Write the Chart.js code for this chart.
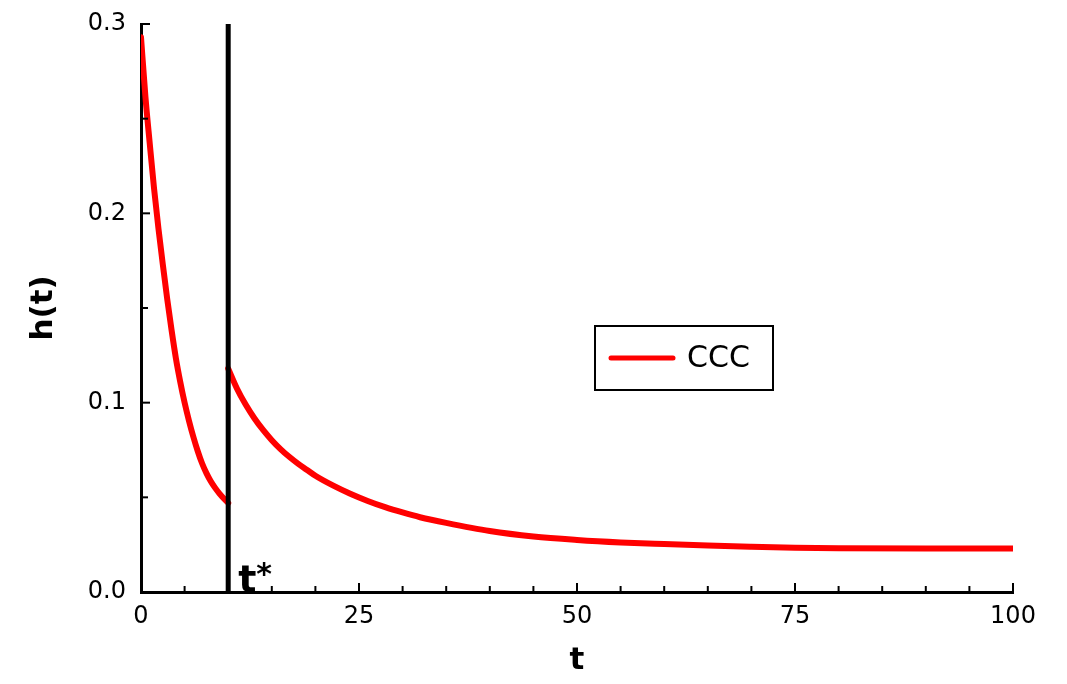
<!DOCTYPE html>
<html>
<head>
<meta charset="utf-8">
<script src="https://cdn.jsdelivr.net/npm/chart.js@4"></script>
<style>
    html, body { margin: 0; padding: 0; background: #fff; }
    #wrap { width: 1067px; height: 684px; }
</style>
</head>
<body>
<div id="wrap"><canvas id="myChart"></canvas></div>
<script>
// hazard before the change point t*
var tBefore = [0, 0.5, 1, 1.5, 2, 2.5, 3, 3.5, 4, 4.5, 5, 5.5, 6, 6.5, 7, 7.5, 8, 8.5, 9, 9.5, 10];
var hBefore = [0.293, 0.262, 0.237, 0.213, 0.192, 0.173, 0.155, 0.1385, 0.1235, 0.111, 0.100, 0.0905,
               0.082, 0.0745, 0.068, 0.0628, 0.0585, 0.055, 0.052, 0.0494, 0.047];
// hazard after t*
var tAfter = [10, 11, 12, 13, 14, 15, 16, 17, 18, 19, 20, 22, 24, 26, 28, 30, 32, 35, 40, 45,
              50, 55, 60, 65, 70, 75, 80, 90, 100];
var hAfter = [0.118, 0.1075, 0.099, 0.0918, 0.0856, 0.0802, 0.0755, 0.0714, 0.0678, 0.0646, 0.0614,
              0.0563, 0.0519, 0.0481, 0.0448, 0.042, 0.0395, 0.0365, 0.0322, 0.0293,
              0.0275, 0.0262, 0.0253, 0.0245, 0.0239, 0.0234, 0.0231, 0.023, 0.023];
var tStar = 10;
var seriesLabel = 'CCC';
var xRange = [0, 100];
var yRange = [0, 0.3];
var xMajorStep = 25, xMinorStep = 5;
var yMajorStep = 0.1, yMinorStep = 0.05;

var curve = [];
tBefore.forEach(function(t, i) { curve.push({x: t, y: hBefore[i]}); });
curve.push({x: tStar, y: null});
tAfter.forEach(function(t, i) { curve.push({x: t, y: hAfter[i]}); });

var tickFont = {family: 'DejaVu Sans', size: 24};
var boldFont = 'DejaVu Sans';

// tick marks pointing into the plot
var innerTicks = {
    id: 'innerTicks',
    afterDraw: function(chart) {
        var ctx = chart.ctx, xs = chart.scales.x, ys = chart.scales.y;
        var a = chart.chartArea;
        ctx.save();
        ctx.strokeStyle = '#000';
        ctx.lineWidth = 2;
        var n, v, p, len;
        for (n = 0; xRange[0] + n * xMinorStep <= xRange[1] + 1e-9; n++) {
            v = xRange[0] + n * xMinorStep;
            len = (Math.abs(v / xMajorStep - Math.round(v / xMajorStep)) < 1e-6) ? 9 : 6;
            p = xs.getPixelForValue(v);
            ctx.beginPath(); ctx.moveTo(p, a.bottom); ctx.lineTo(p, a.bottom - len); ctx.stroke();
        }
        for (n = 0; yRange[0] + n * yMinorStep <= yRange[1] + 1e-9; n++) {
            v = yRange[0] + n * yMinorStep;
            len = (Math.abs(v / yMajorStep - Math.round(v / yMajorStep)) < 1e-6) ? 9 : 7;
            p = ys.getPixelForValue(v);
            ctx.beginPath(); ctx.moveTo(a.left, p); ctx.lineTo(a.left + len, p); ctx.stroke();
        }
        ctx.restore();
    }
};

// t* label next to the vertical line
var tStarLabel = {
    id: 'tStarLabel',
    afterDraw: function(chart) {
        var ctx = chart.ctx;
        var px = chart.scales.x.getPixelForValue(tStar) + 10;
        var py = chart.scales.y.getPixelForValue(0);
        ctx.save();
        ctx.fillStyle = '#000';
        ctx.textBaseline = 'alphabetic';
        ctx.textAlign = 'left';
        ctx.font = 'bold 38px ' + boldFont;
        ctx.fillText('t', px, py);
        var w = ctx.measureText('t').width;
        ctx.font = 'bold 30px ' + boldFont;
        ctx.fillText('*', px + w, py - 8);
        ctx.restore();
    }
};

// boxed legend inside the plot
var boxLegend = {
    id: 'boxLegend',
    afterDraw: function(chart) {
        var ctx = chart.ctx, a = chart.chartArea;
        var ds = chart.data.datasets.filter(function(d) { return d.label === seriesLabel; })[0];
        var bx = a.left + 454, by = a.top + 302, bw = 178, bh = 64;
        ctx.save();
        ctx.fillStyle = '#fff';
        ctx.fillRect(bx, by, bw, bh);
        ctx.strokeStyle = '#000';
        ctx.lineWidth = 2;
        ctx.strokeRect(bx, by, bw, bh);
        ctx.strokeStyle = ds.borderColor;
        ctx.lineWidth = 5;
        ctx.lineCap = 'round';
        ctx.beginPath();
        ctx.moveTo(bx + 16, by + bh / 2);
        ctx.lineTo(bx + 78, by + bh / 2);
        ctx.stroke();
        ctx.fillStyle = '#000';
        ctx.font = '30px DejaVu Sans';
        ctx.textBaseline = 'middle';
        ctx.fillText(ds.label, bx + 92, by + bh / 2 + 1);
        ctx.restore();
    }
};

var ctx = document.getElementById('myChart').getContext('2d');
var chart = new Chart(ctx, {
    type: 'line',
    data: {
        datasets: [{
            label: 't*',
            data: [{x: tStar, y: yRange[0]}, {x: tStar, y: yRange[1]}],
            borderColor: '#000',
            borderWidth: 5,
            borderCapStyle: 'round',
            pointRadius: 0,
            fill: false
        }, {
            label: seriesLabel,
            data: curve,
            borderColor: '#ff0000',
            borderWidth: 6,
            borderCapStyle: 'round',
            borderJoinStyle: 'round',
            cubicInterpolationMode: 'monotone',
            pointRadius: 0,
            spanGaps: false,
            fill: false
        }]
    },
    options: {
        responsive: true,
        maintainAspectRatio: false,
        animation: false,
        layout: { padding: { top: 24, right: 54, left: 0, bottom: 0 } },
        plugins: {
            legend: { display: false },
            tooltip: { enabled: false }
        },
        scales: {
            x: {
                type: 'linear',
                min: xRange[0],
                max: xRange[1],
                grid: { display: false, drawTicks: false },
                border: { display: true, color: '#000', width: 3 },
                ticks: {
                    stepSize: xMajorStep,
                    color: '#000',
                    font: tickFont,
                    padding: 10,
                    maxRotation: 0
                },
                title: {
                    display: true,
                    text: 't',
                    color: '#000',
                    font: { family: boldFont, size: 31, weight: 'bold' },
                    padding: { top: 0, bottom: 4 }
                },
                afterFit: function(scale) {
                    scale.height = 92;
                    scale.paddingLeft = 0;
                    scale.paddingRight = 0;
                }
            },
            y: {
                min: yRange[0],
                max: yRange[1],
                grid: { display: false, drawTicks: false },
                border: { display: true, color: '#000', width: 3 },
                ticks: {
                    stepSize: yMajorStep,
                    color: '#000',
                    font: tickFont,
                    padding: 15,
                    callback: function(v) { return v.toFixed(1); }
                },
                title: {
                    display: true,
                    text: 'h(t)',
                    color: '#000',
                    font: { family: boldFont, size: 31, weight: 'bold' },
                    padding: { top: 25, bottom: 0 }
                },
                afterFit: function(scale) {
                    scale.width = 141;
                    scale.paddingTop = 0;
                    scale.paddingBottom = 0;
                }
            }
        }
    },
    plugins: [innerTicks, tStarLabel, boxLegend]
});
</script>
</body>
</html>
